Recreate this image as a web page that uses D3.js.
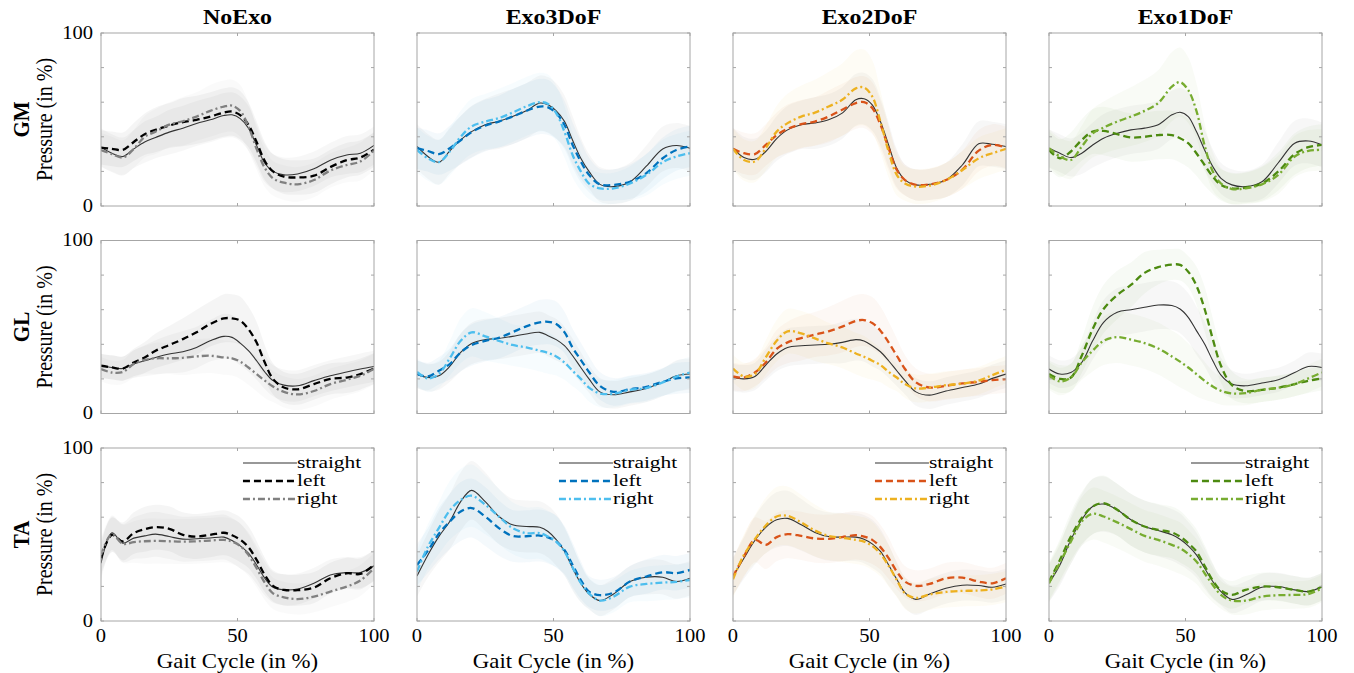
<!DOCTYPE html>
<html>
<meta charset="utf-8">
<style>
body { margin: 0; background: #fff; }
svg { display: block; }
text { font-family: "Liberation Serif", "Times New Roman", serif; fill: #000; }
.frame { fill: none; stroke: #a6a6a6; stroke-width: 1; }
.tick { stroke: #a6a6a6; stroke-width: 1; }
</style>
<body>
<script src="https://cdnjs.cloudflare.com/ajax/libs/d3/7.8.5/d3.min.js"></script>
<script>
// gait cycle sample points (in %)
var gaitCycle = [0,4,8,12,16,20,25,30,35,40,45,48,51,54,57,60,63,67,72,78,84,90,95,100];
var muscles = ["GM", "GL", "TA"];
var conditions = ["NoExo", "Exo3DoF", "Exo2DoF", "Exo1DoF"];
var directions = ["straight", "left", "right"];
var yTicks = [0, 20, 40, 60, 80, 100];
var yTickLabels = [0, 100];
var xTicks = [0, 50, 100];
var straightColor = "#333333";
var leftColors = ["#000000", "#0072BD", "#D95319", "#4C8A10"];
var rightColors = ["#808080", "#4DBEEE", "#EDB120", "#77AC30"];

// ---- GM mean
var gmNoExoStraight = [34,30.5,28.6,33,37,39.6,42.7,45,47.7,49.8,52.3,52.7,50.5,45,35,24.7,20,18,18.5,21.5,26.5,29.5,30.5,35];
var gmNoExoLeft     = [33.8,33,32.5,37,41.5,44,46.5,48.5,49.8,51.7,54,54.6,52.5,47,37,26,20,17,16.5,17.5,22.5,26.5,28,32.5];
var gmNoExoRight    = [32.4,30,28,33,40,43,47,49,51.7,55,57.5,58,55,46,33,22,16,13.5,12.5,15,20.5,23.7,25.7,32];
var gmExo3Straight  = [34.4,28.6,25.3,31.8,38.2,43,47,49,51.7,55,59.5,58.5,55,49,38,27.6,20,12.5,11.2,14,23,33,35,33.4];
var gmExo3Left      = [33.4,31.8,30,33.4,38,42.7,46.5,48.8,51.7,55,57.5,57,53.7,47,35.3,25.7,18,12.5,12.2,14,19,27.6,32.4,34.4];
var gmExo3Right     = [32.4,27.6,25.3,31.5,40,46,48.8,50.8,54,57.5,60,59,53.7,43,29.5,20,13,10.2,10.2,13,18,25.3,28.6,30.5];
var gmExo2Straight  = [33.4,28,27,31.5,39,44,47,48,49.8,53.7,61.4,62,58.5,48.8,35.3,21.8,15,12.2,12.5,15,23.7,36,35.7,34.4];
var gmExo2Left      = [33,30.5,30,35.3,41,44.6,47.3,48.8,51.7,55.6,59.5,60,56.6,47,33.4,20.8,15,12.2,12.5,15,21,32,35.3,33.8];
var gmExo2Right     = [33,26.6,25.7,33.4,43,47.9,51.7,54,57.5,61.4,68,68.5,63.3,48.8,31.5,18,13,11.2,11.8,15,20.8,27.6,30.5,33];
var gmExo1Straight  = [33.4,30.5,28,30.5,35.3,39.2,42,44,45,47,52.7,54.2,51.7,43,32.4,22.8,16,12.2,11.2,14,25,36.3,37.6,35.3];
var gmExo1Left      = [32.4,27.6,31.5,38.2,43,43.4,41.5,39.6,40,41,41,39.2,36.3,30.5,23.7,17,12.2,10.2,10.6,13,20,30,34,35.3];
var gmExo1Right     = [33.4,28.6,26.6,34.4,42,45.4,48.8,51.7,55,59.5,69,71.6,67,55,35,20,13,9.8,10.2,12.5,18,28.6,31.9,32.4];
// ---- GL mean
var glNoExoStraight = [27.6,26.6,26,28.6,30.5,32.4,34.4,35.7,38.2,42,44.6,44,40.7,36.3,30.5,24,19,16.4,16,19,21.8,24,25.7,27.2];
var glNoExoLeft     = [27.6,26.6,26,29.5,32.4,36.3,39.6,43,47,51.7,55,55,53.7,48.8,41,29.5,20,15,14,17,20,20.8,22.8,26];
var glNoExoRight    = [25.7,23.7,24,28.6,31,31.9,31.9,32.2,33,33.4,32.4,31.9,30,26.6,22.8,19,15.6,12.5,11,13,17,19.5,21.8,25.7];
var glExo3Straight  = [22.8,20.8,21.8,27.2,35.3,40.5,42.7,43.4,44.6,46,46.9,45,42.7,39.2,33.4,26.6,20,12.5,10.8,12.5,14.5,18,21.8,22.8];
var glExo3Left      = [22.8,21.4,24.7,28.6,35.3,39.6,42,43.8,47,50.4,52.7,53,51.7,47,38,31,24,16,12.5,14,15.4,18.3,20.3,20.8];
var glExo3Right     = [24,20.3,22.8,31.9,42,46.9,44.6,42,39.6,38.2,36.3,35,33,29.5,24.7,20,15,11.6,11.4,13.7,14.7,18,21.4,23.7];
var glExo2Straight  = [20.8,20,21.4,28,34.4,38.2,39.2,39.6,40,41.1,42.7,41.9,39.2,35.7,30.5,24.7,19,12.5,10.6,13,15,17,20.3,22.8];
var glExo2Left      = [21.4,20.8,23.7,29.5,37.3,41.1,43.6,45.6,47.5,50.2,53.5,54,52.3,47.9,41.1,33.4,25.7,18,15,16,17.4,18.3,19.3,19.9];
var glExo2Right     = [26,21.4,22.8,32.4,42,47.5,46.3,43.4,40.5,38.2,34.7,32.8,30.5,28,24.1,20.8,17,14.5,15,16.4,17.2,19,22.2,25.3];
var glExo1Straight  = [25.7,22.8,23.7,29.5,42,52.7,58.5,60,61.4,62.7,62.4,60.4,55.6,47.9,40.2,30.5,22.2,17,16,17.6,19.5,23.7,27.2,26.6];
var glExo1Left      = [22.8,20,20.8,33.4,48.8,60.4,68.5,74.3,81.3,84.6,86.1,85.9,82,73.9,60.4,43,27.6,16.4,12.9,13.7,14.9,17,18.9,20.3];
var glExo1Right     = [21.8,18.5,20.8,29.5,36.3,42,44.2,42.7,40.7,37.6,33,30,26.6,22.8,18.9,15.6,13.1,11.6,11.8,13.7,14.9,17,20.3,23.7];
// ---- TA mean
var taNoExoStraight = [33.4,51,45,47.9,49.2,50.2,48.8,47.3,47.5,48,48.5,46.5,43.4,39.2,32.4,24.7,19.5,18,18.5,21.8,26.6,28,28,31.9];
var taNoExoLeft     = [36.3,49.8,46,50.8,53,54.2,53.3,49.8,48.8,49.8,51,49.6,47,42.7,35.3,26.6,20.3,18,17.8,19.3,24.7,27.6,27.2,32.4];
var taNoExoRight    = [38.2,50.2,44.6,45.6,46.1,46.3,46.1,45.9,46.1,46.5,46.9,45.9,43.4,38.2,30.5,22.2,16,13.7,12.7,14.1,17,19.9,23.4,30.5];
var taExo3Straight  = [26,38.2,48.8,57.5,69,75.5,69,60.4,55.6,54.6,54.2,51.7,47,40.3,30.5,21.8,15.6,11.8,15.6,22.8,25.3,25.3,22.8,24.7];
var taExo3Left      = [32.4,40.7,50.4,57.5,63.3,65.3,60.4,53.7,49.2,49,49.4,48.3,45.9,41.1,32.4,23.7,17,14.9,16.4,22.8,25.7,28.2,27.6,29.5];
var taExo3Right     = [28.6,43,53.7,63.9,70,72.4,67.2,60.4,53.7,50.8,50.8,48.8,45.9,40.2,31,22,16,11.8,14.1,19.9,21.4,22.2,22.6,23.7];
var taExo2Straight  = [25.7,36.3,46.5,54.2,58.5,59.3,55.6,51.2,48.8,48.5,48.5,47.3,44.6,40.2,32.4,24.1,16.4,12.5,15.6,18.9,20.7,20.5,19.5,21.4];
var taExo2Left      = [25.7,37.3,46.9,44,48.5,50.2,49.2,47.7,47.5,48.5,49.6,48.8,46.9,42.7,36.3,28.6,22.8,20.3,21.4,24.7,25.1,22.8,21.8,24.7];
var taExo2Right     = [24.1,38.2,47.3,55.2,60.4,60.8,57,52.3,49.2,48.1,46.9,45.9,43.4,38.8,31.9,23.7,16,13.3,15.3,16.8,17.4,17.6,18.3,19.9];
var taExo1Straight  = [21.8,32.4,46.9,58.5,66.2,67.6,64.3,58.5,54.6,52.3,49.8,47.3,43.4,38.2,30.5,22.8,17,12.5,15,19.5,19.9,18,17,19.9];
var taExo1Left      = [22.8,35.3,48.8,59.5,66.2,68.1,64.3,58.5,54.6,52.7,51.2,48.8,45,40.2,31.9,23.4,17.6,15.1,18,19.9,19.5,18,17,19.9];
var taExo1Right     = [21.8,33.8,45.9,57.5,62,60.4,57,53.1,49.2,46.9,44,42.1,38.8,34.4,27.6,20.8,15.1,11.8,11.8,14.1,14.9,15.1,15.6,18.9];

// ---- standard deviations (band half widths): [straight, left, right]
var gmNoExoSd = [
  [11,11,11,11,12,12,13,13,13,13,13,13,13,13,12,11,10,10,10,10,10,11,11,11],
  [10,10,10,11,12,13,13,14,14,14,14,14,14,13,12,11,10,10,10,10,10,10,10,10],
  [10,10,10,11,12,13,13,14,14,15,15,15,15,14,12,11,10,10,10,10,10,10,11,11]];
var gmExo3Sd = [
  [13,13,13,13,14,15,15,16,16,16,16,16,16,15,14,12,10,10,10,11,12,13,13,13],
  [12,12,12,13,14,15,15,15,16,16,16,16,15,14,13,12,10,9,9,10,11,12,12,12],
  [13,13,13,14,15,16,16,17,17,17,17,17,16,15,13,11,9,9,9,10,12,13,13,13]];
var gmExo2Sd = [
  [12,12,12,12,13,14,14,15,15,15,15,15,15,14,13,11,9,9,9,10,12,13,13,13],
  [12,12,12,12,13,14,14,14,15,15,15,15,15,14,13,11,9,9,9,10,11,12,12,12],
  [12,12,12,13,15,17,18,19,20,21,22,22,21,18,15,12,10,10,10,10,11,12,12,12]];
var gmExo1Sd = [
  [11,11,11,12,13,14,14,14,14,14,14,14,14,13,12,10,9,9,9,10,12,13,13,13],
  [11,11,11,12,13,14,14,14,14,14,14,14,14,13,12,10,9,9,9,10,11,12,12,12],
  [11,11,11,12,14,15,16,17,18,19,20,20,19,16,13,11,9,9,9,10,11,12,12,12]];
var glNoExoSd = [
  [7,7,7,8,9,10,11,12,12,12,13,13,13,12,11,10,9,9,9,9,9,9,9,9],
  [7,7,7,8,9,10,11,12,13,13,14,14,14,13,12,10,9,9,9,9,9,9,9,9],
  [7,7,7,8,8,9,9,10,10,10,10,10,10,10,10,10,9,9,9,9,9,9,9,9]];
var glExo3Sd = [
  [8,8,8,9,11,12,12,12,12,12,12,12,12,11,10,9,8,8,8,8,8,8,9,9],
  [8,8,8,9,11,12,12,12,12,12,13,13,13,12,11,10,9,8,8,8,8,8,9,9],
  [8,8,8,10,13,14,14,13,12,12,12,12,11,10,9,8,8,8,8,8,8,8,9,9]];
var glExo2Sd = [
  [8,8,8,9,10,11,11,11,11,12,12,12,12,11,10,9,8,8,8,8,8,8,8,8],
  [8,8,8,9,11,12,13,13,14,15,15,15,15,14,12,10,8,8,8,8,8,8,8,8],
  [8,8,8,10,12,13,13,13,12,12,12,12,11,10,9,8,8,8,8,8,8,8,8,8]];
var glExo1Sd = [
  [8,8,8,9,11,13,14,14,14,14,14,14,14,14,13,12,10,8,7,7,7,7,8,8],
  [8,8,8,10,13,14,14,13,12,10,9,9,9,11,13,12,10,8,7,7,7,7,7,7],
  [8,8,8,10,12,14,15,15,15,15,15,15,14,13,11,9,8,7,7,7,7,7,8,8]];
var taNoExoSd = [
  [10,10,11,12,13,13,13,13,13,13,13,13,13,12,11,10,9,9,9,9,9,9,9,9],
  [10,10,11,12,13,13,13,13,13,13,13,13,13,12,11,10,9,9,9,9,9,9,9,9],
  [10,10,11,12,13,13,13,13,13,13,13,13,13,12,11,10,9,9,9,9,9,9,9,9]];
var taExo3Sd = [
  [12,13,15,16,17,17,17,16,15,15,15,15,15,14,13,11,9,9,9,9,10,10,10,10],
  [12,13,15,16,17,17,17,16,15,15,15,15,15,14,13,11,9,9,9,9,10,10,10,10],
  [12,13,15,17,18,18,17,16,15,15,15,15,15,14,13,11,9,9,9,9,10,10,10,10]];
var taExo2Sd = [
  [11,12,14,15,16,16,15,14,14,14,14,14,14,13,12,10,9,9,9,9,9,9,9,9],
  [11,12,13,14,14,14,14,14,14,14,14,14,14,13,12,10,9,9,9,9,9,9,9,9],
  [11,12,14,16,17,17,16,15,14,14,14,14,14,13,12,10,9,9,9,9,9,9,9,9]];
var taExo1Sd = [
  [11,12,14,15,16,16,15,15,15,15,15,15,14,13,12,10,8,8,8,8,8,8,8,8],
  [11,12,14,15,16,16,15,15,15,15,15,15,14,13,12,10,8,8,8,8,8,8,8,8],
  [11,12,13,14,15,15,15,15,15,15,15,15,14,13,12,10,8,8,8,8,8,8,8,8]];

var meanTable = [
  [[gmNoExoStraight, gmNoExoLeft, gmNoExoRight], [gmExo3Straight, gmExo3Left, gmExo3Right],
   [gmExo2Straight, gmExo2Left, gmExo2Right], [gmExo1Straight, gmExo1Left, gmExo1Right]],
  [[glNoExoStraight, glNoExoLeft, glNoExoRight], [glExo3Straight, glExo3Left, glExo3Right],
   [glExo2Straight, glExo2Left, glExo2Right], [glExo1Straight, glExo1Left, glExo1Right]],
  [[taNoExoStraight, taNoExoLeft, taNoExoRight], [taExo3Straight, taExo3Left, taExo3Right],
   [taExo2Straight, taExo2Left, taExo2Right], [taExo1Straight, taExo1Left, taExo1Right]]];
var sdTable = [
  [gmNoExoSd, gmExo3Sd, gmExo2Sd, gmExo1Sd],
  [glNoExoSd, glExo3Sd, glExo2Sd, glExo1Sd],
  [taNoExoSd, taExo3Sd, taExo2Sd, taExo1Sd]];

var W = 1354, H = 673;
var left0 = 101, top0 = 33, pw = 273, ph = 173, colStep = 316, rowStep = 207.5;
var stretch = 1.14;   // the figure is wider than tall, text glyphs too

var svg = d3.select("body").append("svg").attr("width", W).attr("height", H);

var x = d3.scaleLinear().domain([0, 100]).range([0, pw]);
var y = d3.scaleLinear().domain([0, 100]).range([ph, 0]);
var curve = d3.curveCatmullRom.alpha(0.5);

function styleFor(c, k) {
  if (k === 0) return {color: straightColor, width: 1.1, dash: null};
  if (k === 1) return {color: leftColors[c], width: 2.3, dash: "7,4"};
  return {color: rightColors[c], width: 2.3, dash: "7,3,2,3"};
}

function label(g, tx, ty, str, size, opt) {
  opt = opt || {};
  var sx = opt.sx || stretch;
  var tf = "translate(" + tx + "," + ty + ") scale(" + sx + ",1)" + (opt.rotate ? " rotate(-90)" : "");
  return g.append("text").attr("transform", tf)
    .attr("text-anchor", opt.anchor || "middle")
    .attr("dy", opt.dy || null)
    .style("font-size", size + "px")
    .style("font-weight", opt.bold ? "bold" : null)
    .text(str);
}

svg.append("defs").append("clipPath").attr("id", "clip")
  .append("rect").attr("width", pw).attr("height", ph);

muscles.forEach(function(m, r) {
  conditions.forEach(function(cond, c) {
    var g = svg.append("g")
      .attr("transform", "translate(" + (left0 + c * colStep) + "," + (top0 + r * rowStep) + ")");
    var plot = g.append("g").attr("clip-path", "url(#clip)");

    // bands
    directions.forEach(function(dir, k) {
      var mean = meanTable[r][c][k], sd = sdTable[r][c][k];
      var pts = gaitCycle.map(function(gc, i) { return {gc: gc, m: mean[i], s: sd[i]}; });
      var area = d3.area().curve(curve)
        .x(function(d) { return x(d.gc); })
        .y0(function(d) { return y(d.m - d.s); })
        .y1(function(d) { return y(d.m + d.s); });
      var col = k === 0 ? "#000000" : (k === 1 ? leftColors[c] : rightColors[c]);
      var op = k === 0 ? 0.032 : (c === 0 ? 0.04 : 0.045);
      plot.append("path").datum(pts).attr("d", area)
        .attr("fill", col).attr("fill-opacity", op);
    });

    // mean lines
    directions.forEach(function(dir, k) {
      var mean = meanTable[r][c][k];
      var st = styleFor(c, k);
      var line = d3.line().curve(curve)
        .x(function(d, i) { return x(gaitCycle[i]); })
        .y(function(d) { return y(d); });
      plot.append("path").datum(mean).attr("d", line)
        .attr("fill", "none").attr("stroke", st.color).attr("stroke-width", st.width)
        .attr("stroke-dasharray", st.dash);
    });

    // box + inward ticks
    g.append("rect").attr("class", "frame").attr("width", pw).attr("height", ph);
    yTicks.forEach(function(t) {
      g.append("line").attr("class", "tick").attr("x1", 0).attr("x2", 3).attr("y1", y(t)).attr("y2", y(t));
      g.append("line").attr("class", "tick").attr("x1", pw - 3).attr("x2", pw).attr("y1", y(t)).attr("y2", y(t));
    });
    xTicks.forEach(function(t) {
      g.append("line").attr("class", "tick").attr("x1", x(t)).attr("x2", x(t)).attr("y1", ph).attr("y2", ph - 3);
      g.append("line").attr("class", "tick").attr("x1", x(t)).attr("x2", x(t)).attr("y1", 0).attr("y2", 3);
    });

    if (c === 0) {
      yTickLabels.forEach(function(t) {
        label(g, -8, y(t), t, 18, {anchor: "end", dy: "0.33em"});
      });
      label(g, -49, ph / 2, "Pressure (in %)", 20, {rotate: true});
      label(g, -72, ph / 2, m, 21, {rotate: true, bold: true});
    }
    if (r === 0) {
      label(g, pw / 2, -9, cond, 21, {bold: true});
    }
    if (r === muscles.length - 1) {
      xTicks.forEach(function(t) {
        label(g, x(t), ph + 21, t, 18);
      });
      label(g, pw / 2, ph + 47, "Gait Cycle (in %)", 20);

      // legend
      var rowGap = 18;
      var lg = g.append("g").attr("transform", "translate(" + x(52) + ",15)");
      directions.forEach(function(dir, k) {
        var st = styleFor(c, k);
        lg.append("line").attr("x1", 0).attr("x2", 54).attr("y1", k * rowGap).attr("y2", k * rowGap)
          .attr("stroke", st.color).attr("stroke-width", st.width).attr("stroke-dasharray", st.dash);
        label(lg, 54, k * rowGap, dir, 16.5, {anchor: "start", dy: "0.3em", sx: 1.3});
      });
    }
  });
});
</script>
</body>
</html>
